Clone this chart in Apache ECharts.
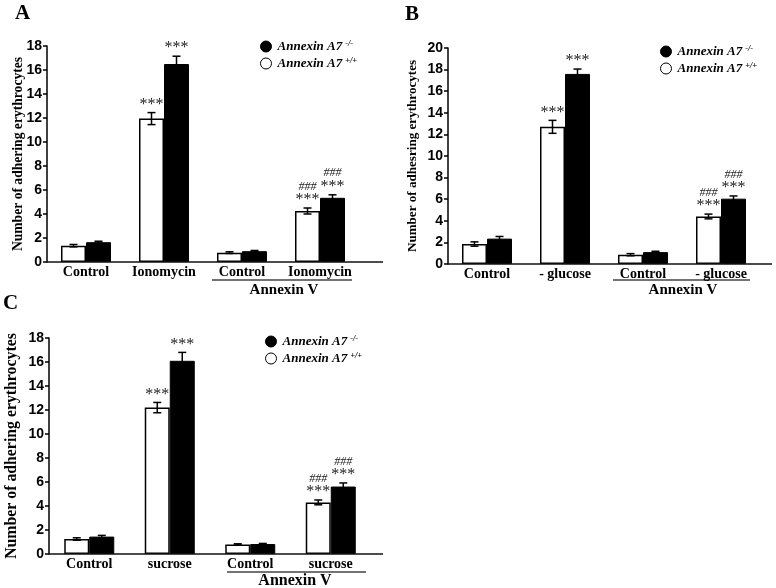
<!DOCTYPE html>
<html><head><meta charset="utf-8">
<script src="https://cdn.jsdelivr.net/npm/echarts@6/dist/echarts.min.js"></script>
<style>html,body{margin:0;padding:0;background:#fff}#c{width:776px;height:588px}</style>
</head><body><div id="c"></div>
<script>
// ---------------- DATA ----------------
const seriesNames = ['Annexin A7 +/+', 'Annexin A7 -/-'];

const categoriesA = ['Control', 'Ionomycin', 'Control', 'Ionomycin'];
const wtA = [1.36, 11.95, 0.78, 4.25];
const wtErrA = [0.1, 0.5, 0.07, 0.25];
const koA = [1.65, 16.5, 0.9, 5.35];
const koErrA = [0.08, 0.65, 0.06, 0.25];
const wtSigA = ['', '***', '', '###\n***'];
const koSigA = ['', '***', '', '###\n***'];
const yMaxA = 18;
const yNameA = 'Number of adhering erythrocytes';

const categoriesB = ['Control', '- glucose', 'Control', '- glucose'];
const wtB = [1.85, 12.7, 0.86, 4.4];
const wtErrB = [0.2, 0.6, 0.1, 0.22];
const koB = [2.35, 17.6, 1.1, 6.05];
const koErrB = [0.2, 0.45, 0.08, 0.25];
const wtSigB = ['', '***', '', '###\n***'];
const koSigB = ['', '***', '', '###\n***'];
const yMaxB = 20;
const yNameB = 'Number of adhesring erythrocytes';

const categoriesC = ['Control', 'sucrose', 'Control', 'sucrose'];
const wtC = [1.25, 12.2, 0.8, 4.3];
const wtErrC = [0.1, 0.43, 0.05, 0.2];
const koC = [1.45, 16.1, 0.83, 5.62];
const koErrC = [0.1, 0.7, 0.05, 0.3];
const wtSigC = ['', '***', '', '###\n***'];
const koSigC = ['', '***', '', '###\n***'];
const yMaxC = 18;
const yNameC = 'Number of adhering erythrocytes';

const yInterval = 2;
const groupLabel = 'Annexin V';
const panelLetters = ['A', 'B', 'C'];

// ---------------- LAYOUT ----------------
const BAR_W = 25;
const SERIF = 'Liberation Serif';
const SANS = 'Liberation Sans';
const panels = [
  { cats: categoriesA, wt: wtA, wtErr: wtErrA, ko: koA, koErr: koErrA, wtSig: wtSigA, koSig: koSigA,
    yMax: yMaxA, yName: yNameA, grid: { left: 47, top: 46, width: 312, height: 216 }, axisEnd: 383,
    nameGap: 22, nameSize: 13.6, legend: { left: 260, top: 39 },
    letter: [15, 3], underline: [212, 352, 280], annex: [284, 290, 15] },
  { cats: categoriesB, wt: wtB, wtErr: wtErrB, ko: koB, koErr: koErrB, wtSig: wtSigB, koSig: koSigB,
    yMax: yMaxB, yName: yNameB, grid: { left: 448, top: 48, width: 312, height: 216 }, axisEnd: 772,
    nameGap: 29, nameSize: 13.1, legend: { left: 660, top: 44 },
    letter: [405, 4], underline: [613, 750, 280], annex: [683, 290, 15] },
  { cats: categoriesC, wt: wtC, wtErr: wtErrC, ko: koC, koErr: koErrC, wtSig: wtSigC, koSig: koSigC,
    yMax: yMaxC, yName: yNameC, grid: { left: 49, top: 338, width: 322, height: 216 }, axisEnd: 383,
    nameGap: 29, nameSize: 15.8, legend: { left: 265, top: 334 },
    letter: [3, 293], underline: [227, 366, 572], annex: [295, 581, 16] }
];

const grids = [], xAxes = [], yAxes = [], series = [], legends = [], graphics = [];

panels.forEach((p, i) => {
  grids.push(Object.assign({ containLabel: false, outerBoundsMode: 'none' }, p.grid));
  xAxes.push({
    type: 'category', gridIndex: i, data: p.cats,
    axisLine: { show: false }, axisTick: { show: false },
    axisLabel: { interval: 0, margin: 3, fontFamily: SERIF, fontWeight: 'bold', fontSize: 14, color: '#000' }
  });
  yAxes.push({
    type: 'value', gridIndex: i, min: 0, max: p.yMax, interval: yInterval,
    axisLine: { show: true, lineStyle: { color: '#000', width: 1.5 } },
    axisTick: { show: true, length: 4, lineStyle: { color: '#000', width: 1.5 } },
    splitLine: { show: false },
    axisLabel: { margin: 5, fontFamily: SANS, fontWeight: 'bold', fontSize: 14, color: '#000' },
    name: p.yName, nameLocation: 'middle', nameGap: p.nameGap, nameMoveOverlap: false,
    nameTextStyle: { fontFamily: SERIF, fontWeight: 'bold', fontSize: p.nameSize, color: '#000' }
  });
  series.push({
    type: 'bar', name: seriesNames[0], xAxisIndex: i, yAxisIndex: i, data: p.wt,
    barWidth: BAR_W, barGap: '0%', z: 2,
    itemStyle: { color: '#fff', borderColor: '#000', borderWidth: 1.5 }, silent: true
  });
  series.push({
    type: 'bar', name: seriesNames[1], xAxisIndex: i, yAxisIndex: i, data: p.ko,
    barWidth: BAR_W, barGap: '0%', z: 2,
    itemStyle: { color: '#000', borderColor: '#000', borderWidth: 1 }, silent: true
  });
  const errData = [], sigs = [];
  p.cats.forEach((c, k) => {
    errData.push([k, p.wt[k], p.wtErr[k], -1]); sigs.push(p.wtSig[k]);
    errData.push([k, p.ko[k], p.koErr[k], 1]); sigs.push(p.koSig[k]);
  });
  series.push({
    type: 'custom', name: 'err' + i, xAxisIndex: i, yAxisIndex: i, data: errData, z: 5, silent: true,
    renderItem: function (params, api) {
      const k = api.value(0), m = api.value(1), e = api.value(2), side = api.value(3);
      const c = api.coord([k, m]);
      const x = c[0] + side * BAR_W / 2;
      const yHi = api.coord([k, m + e])[1];
      const yLo = api.coord([k, m - e])[1];
      const cap = 4;
      const st = { stroke: '#000', lineWidth: 1.5 };
      const children = [
        { type: 'line', shape: { x1: x, y1: yHi, x2: x, y2: yLo }, style: st },
        { type: 'line', shape: { x1: x - cap, y1: yHi, x2: x + cap, y2: yHi }, style: st },
        { type: 'line', shape: { x1: x - cap, y1: yLo, x2: x + cap, y2: yLo }, style: st }
      ];
      const s = sigs[params.dataIndex];
      if (s) {
        const txt = s.split('\n').map(t => t.indexOf('#') >= 0 ? '{h|' + t + '}' : '{s|' + t + '}').join('\n');
        children.push({
          type: 'text', x: x, y: yHi - 1,
          style: {
            text: txt, align: 'center', verticalAlign: 'bottom', fill: '#222',
            rich: {
              s: { fontFamily: SERIF, fontSize: 16, lineHeight: 14, fill: '#222' },
              h: { fontFamily: SERIF, fontStyle: 'italic', fontSize: 12, lineHeight: 13, fill: '#222' }
            }
          }
        });
      }
      return { type: 'group', children: children };
    }
  });
  legends.push({
    left: p.legend.left, top: p.legend.top, padding: 0, orient: 'vertical', selectedMode: false,
    data: [seriesNames[1], seriesNames[0]], icon: 'circle', itemWidth: 11, itemHeight: 11, itemGap: 3,
    itemStyle: { borderWidth: 1 },
    formatter: function (name) {
      const idx = name.lastIndexOf(' ');
      return '{m|' + name.slice(0, idx) + '}{u|' + name.slice(idx + 1) + '}';
    },
    textStyle: {
      rich: {
        m: { fontFamily: SERIF, fontWeight: 'bold', fontStyle: 'italic', fontSize: 13, color: '#000', lineHeight: 15, padding: [0, 0, 0, 1] },
        u: { fontFamily: SERIF, fontWeight: 'bold', fontStyle: 'italic', fontSize: 8.5, color: '#000', verticalAlign: 'top', padding: [0, 0, 0, 3] }
      }
    }
  });
  const y0 = p.grid.top + p.grid.height;
  graphics.push({ type: 'line', shape: { x1: p.grid.left, y1: y0, x2: p.axisEnd, y2: y0 }, style: { stroke: '#111', lineWidth: 1.5 }, z: 10 });
  graphics.push({ type: 'line', shape: { x1: p.underline[0], y1: p.underline[2], x2: p.underline[1], y2: p.underline[2] }, style: { stroke: '#444', lineWidth: 1.5 } });
  graphics.push({ type: 'text', x: p.annex[0], y: p.annex[1], style: { text: groupLabel, align: 'center', verticalAlign: 'middle', font: 'bold ' + p.annex[2] + 'px "' + SERIF + '"', fill: '#000' } });
  graphics.push({ type: 'text', x: p.letter[0], y: p.letter[1], style: { text: panelLetters[i], align: 'left', verticalAlign: 'top', font: 'bold 21px "' + SERIF + '"', fill: '#000' } });
});

const chart = echarts.init(document.getElementById('c'), null, { renderer: 'canvas' });
chart.setOption({
  animation: false,
  backgroundColor: '#fff',
  grid: grids, xAxis: xAxes, yAxis: yAxes, series: series, legend: legends, graphic: graphics
});
</script></body></html>
